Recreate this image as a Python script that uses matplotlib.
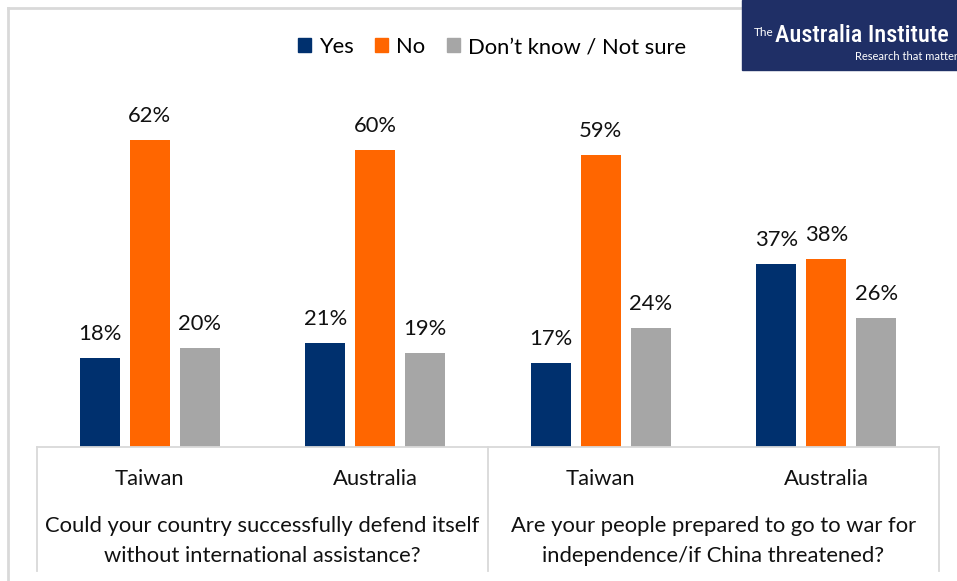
import matplotlib
matplotlib.use("Agg")
import matplotlib.pyplot as plt
from matplotlib.patches import Rectangle
from matplotlib.lines import Line2D
import numpy as np

plt.rcParams['font.family'] = ['Lato', 'DejaVu Sans']

countries = ["Taiwan", "Australia", "Taiwan", "Australia"]
questions = ["Could your country successfully defend itself\nwithout international assistance?",
             "Are your people prepared to go to war for\nindependence/if China threatened?"]
series = ["Yes", "No", "Don\u2019t know / Not sure"]
yes = [18, 21, 17, 37]
no = [62, 60, 59, 38]
dont_know = [20, 19, 24, 26]
colors = ["#00306E", "#FF6600", "#A6A6A6"]

W, H = 957, 581
fig = plt.figure(figsize=(W / 100, H / 100), dpi=100)

def fx(px):
    return px / W

def fy(py):
    return 1 - py / H

FS = 15.8
TXT = '#111111'

# plot area: baseline at y=447px, 4.95 px per percentage point
left_px, right_px, base_px = 37, 939, 447
ymax = 70
top_px = base_px - ymax * 4.95
ax = fig.add_axes([fx(left_px), fy(base_px), fx(right_px - left_px), (base_px - top_px) / H])
ax.set_xlim(-0.5, 3.5)
ax.set_ylim(0, ymax)
ax.axis('off')

x = np.arange(len(countries))
unit = (right_px - left_px) / 4.0
bw = 40 / unit
step = 50 / unit
for i, (vals, col) in enumerate(zip([yes, no, dont_know], colors)):
    pos = x + (i - 1) * step
    ax.bar(pos, vals, width=bw, color=col, label=series[i], zorder=2)
    for xp, v in zip(pos, vals):
        ax.annotate(f"{v}%", (xp, v), xytext=(0, 10), textcoords='offset points',
                    ha='center', va='bottom', fontsize=FS, color=TXT)

# category table lines below the plot
grid_col = "#D9D9D9"
fig.add_artist(Line2D([fx(left_px), fx(right_px)], [fy(base_px), fy(base_px)], color=grid_col, lw=1.3))
for px in (left_px, (left_px + right_px) / 2, right_px):
    fig.add_artist(Line2D([fx(px), fx(px)], [fy(base_px), fy(571)], color=grid_col, lw=1.3))

for xi, c in zip(x, countries):
    fig.text(fx(left_px + (xi + 0.5) * unit), fy(479), c, ha='center', va='center',
             fontsize=FS, color=TXT)
for k, q in enumerate(questions):
    fig.text(fx(left_px + (2 * k + 1) * unit), fy(541), q, ha='center', va='center',
             fontsize=FS, color=TXT, linespacing=1.6)

# outer frame
fig.add_artist(Line2D([fx(8), fx(8)], [fy(8), 0.0], color=grid_col, lw=2))
fig.add_artist(Line2D([fx(8), 1.0], [fy(8), fy(8)], color=grid_col, lw=2))

# legend
handles = [Rectangle((0, 0), 1, 1, color=c) for c in colors]
fig.legend(handles, series, loc='center', bbox_to_anchor=(fx(492), fy(47)), ncol=3,
           frameon=False, fontsize=FS, handlelength=0.6, handleheight=0.6,
           handletextpad=0.35, columnspacing=1.0)

# logo
fig.add_artist(Rectangle((fx(742), fy(70)), fx(W - 742), 70 / H, transform=fig.transFigure,
                         color="#1F2F66", zorder=5))
fig.text(fx(754), fy(33), "The", color='white', fontsize=8.5, ha='left', va='center', zorder=6)
fig.text(fx(775), fy(36), "Australia Institute", color='white', fontsize=17.5, ha='left',
         va='center', zorder=6, fontweight='medium', family=['Roboto Condensed', 'Lato'])
fig.text(fx(958), fy(57), "Research that matter", color='white', fontsize=8, ha='right',
         va='center', zorder=6)

fig.savefig("out.png", dpi=100)
